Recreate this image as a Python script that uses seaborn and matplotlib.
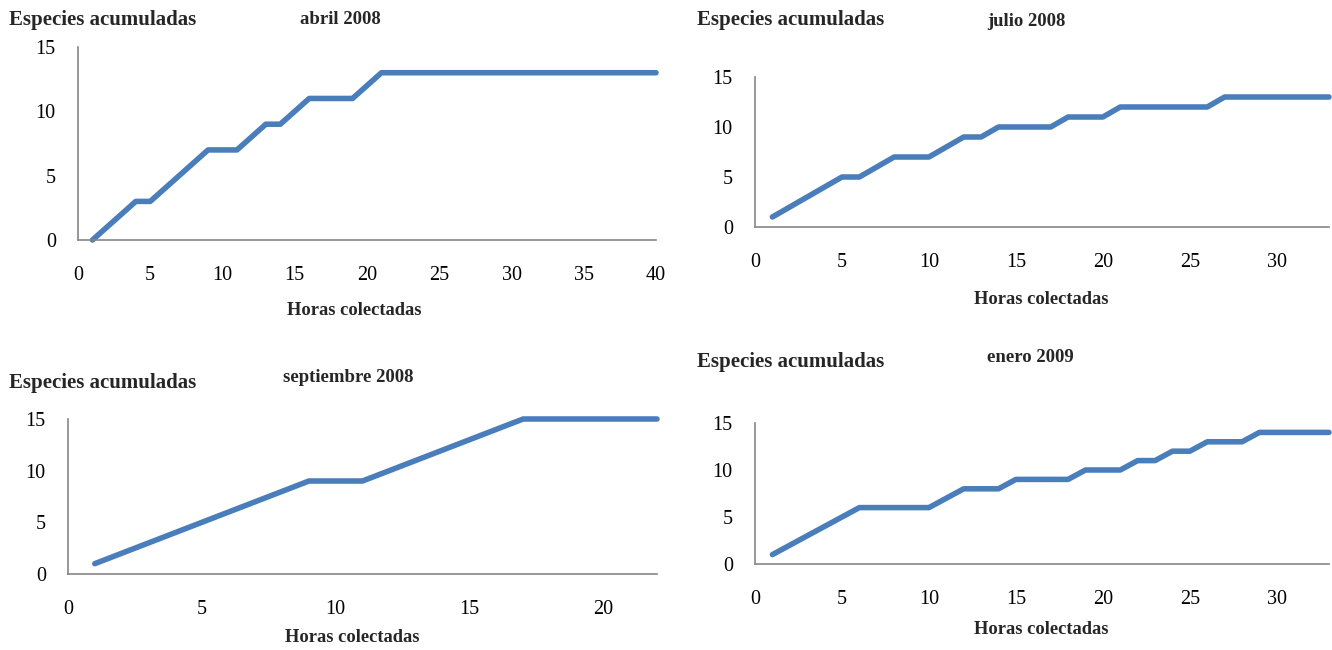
import matplotlib
matplotlib.use("Agg")
import matplotlib.pyplot as plt
import seaborn as sns
import pandas as pd

# Accumulated species per collection hour, one series per sampling month
horas_abril = list(range(1, 41))
especies_abril = [0, 1, 2, 3, 3, 4, 5, 6, 7, 7, 7, 8, 9, 9, 10, 11, 11, 11, 11, 12,
                  13, 13, 13, 13, 13, 13, 13, 13, 13, 13, 13, 13, 13, 13, 13, 13, 13, 13, 13, 13]

horas_julio = list(range(1, 34))
especies_julio = [1, 2, 3, 4, 5, 5, 6, 7, 7, 7, 8, 9, 9, 10, 10, 10, 10, 11, 11, 11,
                  12, 12, 12, 12, 12, 12, 13, 13, 13, 13, 13, 13, 13]

horas_sept = list(range(1, 23))
especies_sept = [1, 2, 3, 4, 5, 6, 7, 8, 9, 9, 9, 10, 11, 12, 13, 14, 15, 15, 15, 15, 15, 15]

horas_enero = list(range(1, 34))
especies_enero = [1, 2, 3, 4, 5, 6, 6, 6, 6, 6, 7, 8, 8, 8, 9, 9, 9, 9, 10, 10,
                  10, 11, 11, 12, 12, 13, 13, 13, 14, 14, 14, 14, 14]

titulos = ["abril 2008", "julio 2008", "septiembre 2008", "enero 2009"]
x_max = [40, 33, 22, 33]
x_step = [5, 5, 5, 5]
ylabel_text = "Especies acumuladas"
xlabel_text = "Horas colectadas"

sns.set_theme(style="white")
plt.rcParams["font.family"] = ["Liberation Serif", "DejaVu Serif"]

LINE = "#4A7EBB"
AXIS = "#868686"

W, H = 1332, 650
fig = plt.figure(figsize=(W / 100, H / 100), dpi=100)


def px_rect(x0, y0, x1, y1):
    return [x0 / W, 1 - y1 / H, (x1 - x0) / W, (y1 - y0) / H]


rects = [
    px_rect(78, 47, 656, 240),
    px_rect(755, 77, 1329, 227),
    px_rect(68, 419, 657, 574),
    px_rect(755, 423, 1329, 564),
]

series = [
    (horas_abril, especies_abril),
    (horas_julio, especies_julio),
    (horas_sept, especies_sept),
    (horas_enero, especies_enero),
]

# text anchors in pixels: (ylabel x, ylabel y, title x, title y, xlabel x, xlabel y)
texts = [
    (9, 20, 340, 20, 354, 310),
    (697, 20, 1026, 21, 1041, 300),
    (9, 383, 348, 377, 352, 638),
    (697, 362, 1030, 358, 1041, 629),
]

for i in range(4):
    ax = fig.add_axes(rects[i])
    xs, ys = series[i]
    df = pd.DataFrame({"horas": xs, "especies": ys})
    sns.lineplot(data=df, x="horas", y="especies", ax=ax, color=LINE,
                 linewidth=4.0, solid_joinstyle="round", solid_capstyle="round",
                 clip_on=False)
    ax.set_xlim(0, x_max[i])
    ax.set_ylim(0, 15)
    ax.set_xticks(range(0, x_max[i] + 1, x_step[i]))
    ax.set_yticks([0, 5, 10, 15])
    ax.set_xlabel("")
    ax.set_ylabel("")
    for side in ["top", "right"]:
        ax.spines[side].set_visible(False)
    for side in ["left", "bottom"]:
        ax.spines[side].set_color(AXIS)
        ax.spines[side].set_linewidth(1.2)
    ax.tick_params(axis="both", which="major", direction="out", length=4,
                   width=1.2, color=AXIS, labelsize=14.5, labelcolor="black")
    ax.tick_params(axis="x", pad=15)
    ax.tick_params(axis="y", pad=12)
    ax.patch.set_alpha(0)

    yx, yy, tx, ty, hx, hy = texts[i]
    fig.text(yx / W, 1 - yy / H, ylabel_text, ha="left", va="center",
             fontsize=15, fontweight="bold")
    fig.text(tx / W, 1 - ty / H, titulos[i], ha="center", va="center",
             fontsize=13.5, fontweight="bold")
    fig.text(hx / W, 1 - hy / H, xlabel_text, ha="center", va="center",
             fontsize=13.3, fontweight="bold")

fig.savefig("out.png", dpi=100)
